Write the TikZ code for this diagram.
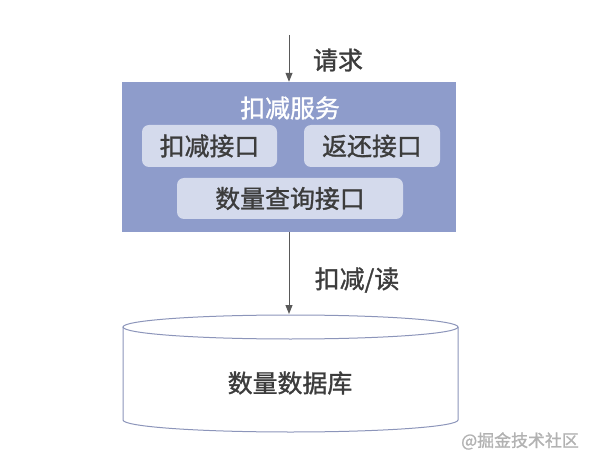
\documentclass[tikz,border=0pt]{standalone}
\usepackage{fontspec}
\setmainfont{Noto Sans CJK SC}[FakeBold=1.2]
\usetikzlibrary{arrows.meta}
\definecolor{svcblue}{HTML}{8E9CCB}
\definecolor{ifcblue}{HTML}{D4DAEC}
\definecolor{txtgray}{HTML}{3C3C3C}
\definecolor{dbline}{HTML}{8C95BA}

\begin{document}
\begin{tikzpicture}[x=1bp,y=-1bp,font=\fontsize{25}{30}\selectfont,
  iface/.style={fill=ifcblue,rounded corners=7bp,text=txtgray,inner sep=0pt},
  flow/.style={draw=black!65,line width=1bp,-{Triangle[length=9bp,width=7bp]}}]
\useasboundingbox (0,0) rectangle (596,464);

\node[fill=svcblue,minimum width=334bp,minimum height=150bp,inner sep=0pt] (s) at (289,157) {};
\node[text=white] (t) at (290,108) {扣减服务};
\node[iface,minimum width=135bp,minimum height=42bp] (a) at (209.5,146) {扣减接口};
\node[iface,minimum width=136bp,minimum height=42bp] (b) at (372,146) {返还接口};
\node[iface,minimum width=226bp,minimum height=41bp] (c) at (290,198.5) {数量查询接口};

\coordinate (i) at (289,35);
\path[flow] (i) -- (s.north);
\node[text=txtgray] (r) at (338,60) {请求};

% database
\fill[white] (123,327) rectangle (458,420);
\draw[dbline,fill=white,line width=1bp] (123,327) -- (123,420)
  arc[start angle=180,end angle=360,x radius=167.5bp,y radius=12bp] -- (458,327);
\draw[dbline,fill=white,line width=1bp] (290.5,327) ellipse[x radius=167.5bp,y radius=12bp];
\node[text=txtgray] (e) at (290,383) {数量数据库};

\coordinate (d) at (289,314);
\path[flow] (s.south) -- (d);
\node[text=txtgray] (w) at (357,280) {扣减/读};

\node[text=black!30,font=\fontsize{17}{20}\selectfont] (m) at (520,441) {@掘金技术社区};
\end{tikzpicture}
\end{document}
